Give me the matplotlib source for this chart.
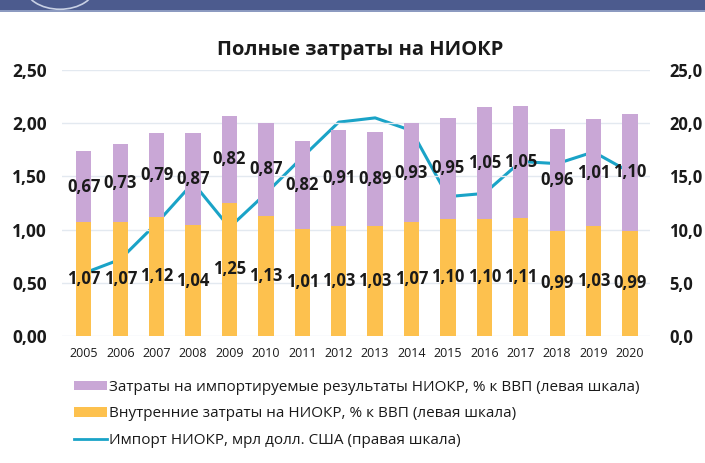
import matplotlib
matplotlib.use("Agg")
import matplotlib.pyplot as plt
from matplotlib.patches import Rectangle, Patch, Circle
from matplotlib.lines import Line2D
import numpy as np

plt.rcParams['font.family'] = ['Open Sans', 'DejaVu Sans']

years = [2005, 2006, 2007, 2008, 2009, 2010, 2011, 2012,
         2013, 2014, 2015, 2016, 2017, 2018, 2019, 2020]
internal = [1.07, 1.07, 1.12, 1.04, 1.25, 1.13, 1.01, 1.03,
            1.03, 1.07, 1.10, 1.10, 1.11, 0.99, 1.03, 0.99]
imported = [0.67, 0.73, 0.79, 0.87, 0.82, 0.87, 0.82, 0.91,
            0.89, 0.93, 0.95, 1.05, 1.05, 0.96, 1.01, 1.10]
import_usd = [5.9, 7.2, 10.6, 14.4, 10.2, 13.4, 16.8, 20.1,
              20.5, 19.3, 13.1, 13.4, 16.4, 16.2, 17.3, 15.4]

c_orange = '#FDC14E'
c_purple = '#C9A7D6'
c_line = '#1AA3C7'
c_text = '#1a1a1a'

fig = plt.figure(figsize=(7.05, 4.63), dpi=100)

# banner at the top
fig.patches.append(Rectangle((0, 0.978), 1, 0.022, transform=fig.transFigure,
                             facecolor='#4C5B8E', edgecolor='none', zorder=0))
fig.patches.append(Rectangle((0, 0.974), 1, 0.005, transform=fig.transFigure,
                             facecolor='#8C9AC0', edgecolor='none', zorder=0))
fig.patches.append(Circle((60 / 705, 1.03), 0.05, transform=fig.transFigure,
                          facecolor='none', edgecolor='#C8D0E4', lw=1.2, zorder=1))

ax = fig.add_axes([62 / 705, 127 / 463, 588 / 705, 266 / 463])
x = np.arange(len(years))
w = 0.42

ax.bar(x, internal, w, color=c_orange, zorder=2)
ax.bar(x, imported, w, bottom=internal, color=c_purple, zorder=2)

ax.set_ylim(0, 2.5)
ax.set_xlim(-0.6, 15.55)
ax.set_yticks(np.arange(0, 2.51, 0.5))
ax.set_yticklabels([f'{v:.2f}'.replace('.', ',') for v in np.arange(0, 2.51, 0.5)],
                   fontsize=12.5, fontweight='bold', color=c_text)
ax.set_xticks(x)
ax.set_xticklabels([str(y) for y in years], fontsize=9, color=c_text)
ax.tick_params(axis='y', length=0, pad=11)
ax.tick_params(axis='x', length=0, pad=8)
ax.grid(axis='y', color='#E3E9F0', lw=1, zorder=0)
for s in ax.spines.values():
    s.set_visible(False)

for i in range(len(years)):
    ax.text(x[i], internal[i] / 2, f'{internal[i]:.2f}'.replace('.', ','),
            ha='center', va='center', fontsize=12, fontweight='bold',
            color=c_text, zorder=6)
    ax.text(x[i], internal[i] + imported[i] / 2, f'{imported[i]:.2f}'.replace('.', ','),
            ha='center', va='center', fontsize=12, fontweight='bold',
            color=c_text, zorder=6)

ax2 = ax.twinx()
ax2.plot(x, import_usd, color=c_line, lw=2.2, zorder=3)
ax2.set_ylim(0, 25)
ax2.set_yticks(np.arange(0, 25.1, 5))
ax2.set_yticklabels([f'{v:.1f}'.replace('.', ',') for v in np.arange(0, 25.1, 5)],
                    fontsize=12, fontweight='bold', color=c_text)
ax2.tick_params(axis='y', length=0, pad=14)
for s in ax2.spines.values():
    s.set_visible(False)
# keep labels above the line
ax.set_zorder(1)
ax2.set_zorder(0)
ax.patch.set_visible(False)

fig.text(360 / 705, 1 - 50 / 463, 'Полные затраты на НИОКР', ha='center', va='center',
         fontsize=14.5, fontweight='bold', color=c_text)

handles = [Patch(facecolor=c_purple, edgecolor='none'),
           Patch(facecolor=c_orange, edgecolor='none'),
           Line2D([0], [0], color=c_line, lw=2)]
labels = ['Затраты на импортируемые результаты НИОКР, % к ВВП (левая шкала)',
          'Внутренние затраты на НИОКР, % к ВВП (левая шкала)',
          'Импорт НИОКР, мрл долл. США (правая шкала)']
fig.legend(handles, labels, loc='upper left', bbox_to_anchor=(60 / 705, 1 - 366 / 463),
           frameon=False, fontsize=11, handlelength=2.2, handleheight=0.6,
           handletextpad=0.1, labelspacing=0.75, labelcolor=c_text)

fig.savefig('out.png', dpi=100, facecolor='white')
